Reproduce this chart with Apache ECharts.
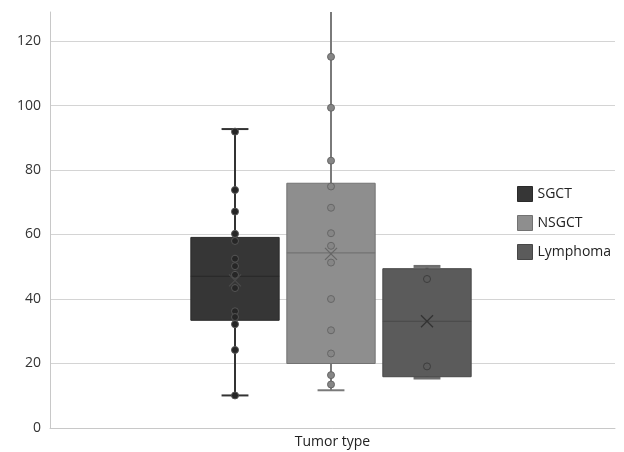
<!DOCTYPE html>
<html>
<head>
<meta charset="utf-8">
<script src="https://cdn.jsdelivr.net/npm/echarts@6.0.0/dist/echarts.min.js"></script>
<style>
  html, body { margin: 0; padding: 0; background: #fff; }
  #chart { width: 624px; height: 452px; }
</style>
</head>
<body>
<div id="chart"></div>
<script>
  'use strict'
  /* data */
  var categories = ['SGCT', 'NSGCT', 'Lymphoma'];
  var boxMin = [10.1, 11.7, 15.5];
  var boxQ1 = [33.4, 20.0, 15.9];
  var boxMedian = [47.0, 54.3, 33.1];
  var boxQ3 = [59.1, 75.9, 49.4];
  var boxMax = [92.7, 140, 50.1];
  var boxMean = [45.8, 54.0, 33.1];
  var sgctPoints = [91.9, 73.8, 67.1, 60.2, 58.0, 52.5, 50.2, 47.5, 43.4, 36.2, 34.4, 32.2, 24.2, 10.1];
  var nsgctPoints = [115.1, 99.3, 82.9, 74.9, 68.3, 60.4, 56.5, 51.3, 40.0, 30.3, 23.1, 16.4, 13.5];
  var lymphomaPoints = [46.2, 19.1];
  var xLabel = ['Tumor type'];
  var yMin = 0, yMax = 129, yStep = 20;

  /* styles */
  var boxFill = ['#363636', '#8e8e8e', '#5b5b5b'];
  var boxStroke = ['#2a2a2a', '#727272', '#474747'];
  var whiskerColor = ['#333333', '#7a7a7a', '#6e6e6e'];
  var whiskerWidth = [2, 2, 3];
  var pointFill = ['#262626', '#868686', '#5b5b5b'];
  var pointStroke = ['#555555', '#666666', '#3d3d3d'];
  var meanColor = ['#4a4a4a', '#666666', '#333333'];
  var font = '"Open Sans", "DejaVu Sans", sans-serif';

  var boxData = categories.map(function (c, i) {
    return [c, boxMin[i], boxQ1[i], boxMedian[i], boxQ3[i], boxMax[i], boxMean[i]];
  });
  var pointSets = [sgctPoints, nsgctPoints, lymphomaPoints];

  function renderBox(params, api) {
    var i = params.dataIndex;
    var x = api.value(0);
    var band = api.size([1, 0])[0];
    var half = band * 0.46;
    var cap = band * 0.14;
    var pMin = api.coord([x, api.value(1)]);
    var pQ1 = api.coord([x, api.value(2)]);
    var pMed = api.coord([x, api.value(3)]);
    var pQ3 = api.coord([x, api.value(4)]);
    var pMax = api.coord([x, api.value(5)]);
    var pMean = api.coord([x, api.value(6)]);
    var cx = pMed[0];
    var ws = { stroke: whiskerColor[i], lineWidth: whiskerWidth[i] };
    var ms = { stroke: meanColor[i], lineWidth: 1.2 };
    return {
      type: 'group',
      children: [
        { type: 'line', shape: { x1: cx, y1: pQ3[1], x2: cx, y2: pMax[1] }, style: ws },
        { type: 'line', shape: { x1: cx, y1: pQ1[1], x2: cx, y2: pMin[1] }, style: ws },
        { type: 'line', shape: { x1: cx - cap, y1: pMax[1], x2: cx + cap, y2: pMax[1] }, style: ws },
        { type: 'line', shape: { x1: cx - cap, y1: pMin[1], x2: cx + cap, y2: pMin[1] }, style: ws },
        { type: 'rect', shape: { x: cx - half, y: pQ3[1], width: half * 2, height: pQ1[1] - pQ3[1] },
          style: { fill: boxFill[i], stroke: boxStroke[i], lineWidth: 1 } },
        { type: 'line', shape: { x1: cx - half, y1: pMed[1], x2: cx + half, y2: pMed[1] },
          style: { stroke: boxStroke[i], lineWidth: 1.2 } },
        { type: 'line', shape: { x1: pMean[0] - 6, y1: pMean[1] - 6, x2: pMean[0] + 6, y2: pMean[1] + 6 }, style: ms },
        { type: 'line', shape: { x1: pMean[0] - 6, y1: pMean[1] + 6, x2: pMean[0] + 6, y2: pMean[1] - 6 }, style: ms }
      ]
    };
  }

  var series = [{
    name: 'box',
    type: 'custom',
    xAxisIndex: 1,
    yAxisIndex: 1,
    clip: true,
    renderItem: renderBox,
    data: boxData,
    z: 2
  }];
  categories.forEach(function (c, i) {
    series.push({
      name: c,
      type: 'scatter',
      xAxisIndex: 1,
      yAxisIndex: 1,
      symbolSize: 7,
      z: 3,
      itemStyle: { color: pointFill[i], borderColor: pointStroke[i], borderWidth: 1, opacity: 1 },
      data: pointSets[i].map(function (v) { return [c, v]; })
    });
  });

  var chart = echarts.init(document.getElementById('chart'));
  var option = {
    animation: false,
    textStyle: { fontFamily: font },
    grid: [
      { left: 50, right: 9, top: 12, bottom: 24 },
      { left: 187, width: 288, top: 12, bottom: 24 }
    ],
    legend: {
      orient: 'vertical',
      left: 512,
      top: 181,
      itemWidth: 15,
      itemHeight: 15,
      itemGap: 13,
      icon: 'rect',
      selectedMode: false,
      textStyle: { fontFamily: font, fontSize: 14, color: '#222' },
      data: categories.map(function (c, i) {
        return { name: c, itemStyle: { color: boxFill[i], borderColor: boxStroke[i], borderWidth: 1 } };
      })
    },
    xAxis: [{
      type: 'category',
      gridIndex: 0,
      data: xLabel,
      axisLine: { lineStyle: { color: '#c8c8c8' } },
      axisTick: { show: false },
      axisLabel: { fontSize: 14, color: '#222', margin: 7, fontFamily: font }
    }, {
      type: 'category',
      gridIndex: 1,
      data: categories,
      show: false
    }],
    yAxis: [{
      type: 'value',
      gridIndex: 0,
      min: yMin,
      max: yMax,
      interval: yStep,
      axisLine: { show: true, lineStyle: { color: '#c8c8c8' } },
      axisTick: { show: false },
      axisLabel: { fontSize: 14, color: '#333', margin: 9, showMaxLabel: false, fontFamily: font },
      splitLine: { showMaxLine: false, lineStyle: { color: '#d4d4d4' } }
    }, {
      type: 'value',
      gridIndex: 1,
      min: yMin,
      max: yMax,
      interval: yStep,
      show: false,
      splitLine: { show: false }
    }],
    series: series
  };
  chart.setOption(option);
</script>
</body>
</html>
